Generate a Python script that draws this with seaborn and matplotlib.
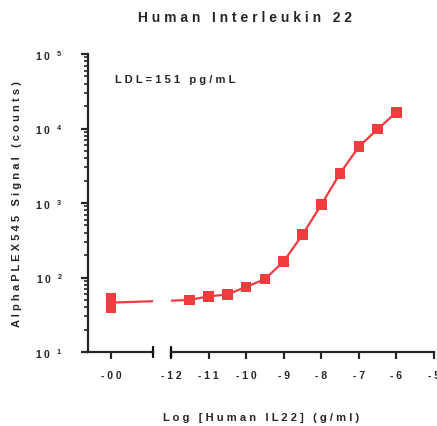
import matplotlib
matplotlib.use('Agg')
import matplotlib.pyplot as plt
import numpy as np
import pandas as pd
import seaborn as sns
from matplotlib.ticker import FixedLocator, FixedFormatter, LogLocator, NullFormatter

# data
log_conc = [-11.5, -11.0, -10.5, -10.0, -9.5, -9.0, -8.5, -8.0, -7.5, -7.0, -6.5, -6.0]
signal = [50, 56, 59, 75, 95, 165, 375, 950, 2500, 5700, 9800, 16500]
blank_signal = [53, 39]          # the "-00" (no IL22) replicates
x_ticks = [-12, -11, -10, -9, -8, -7, -6, -5]
y_ticks = [1e1, 1e2, 1e3, 1e4, 1e5]
y_exps = ['1', '2', '3', '4', '5']

BLANK_X = -13.6   # where the -00 group sits on the left piece of the broken axis
RED = '#F23B3F'


def spaced(s):
    return ' '.join(s)


def main():
    sns.set_style('ticks')
    plt.rcParams['font.family'] = ['Liberation Sans', 'DejaVu Sans']
    plt.rcParams['font.weight'] = 'bold'
    plt.rcParams['mathtext.fontset'] = 'custom'
    plt.rcParams['mathtext.rm'] = 'Liberation Sans:bold'
    plt.rcParams['mathtext.it'] = 'Liberation Sans:bold'
    plt.rcParams['mathtext.bf'] = 'Liberation Sans:bold'

    df = pd.DataFrame({
        'x': [BLANK_X] * len(blank_signal) + log_conc,
        'y': blank_signal + signal,
    })

    fig = plt.figure(figsize=(4.37, 4.27), dpi=100)
    W, H = 437.0, 427.0
    ax_l = fig.add_axes([88 / W, 74 / H, 65 / W, 298 / H])
    ax_r = fig.add_axes([171 / W, 74 / H, 263 / W, 298 / H], sharey=ax_l)

    for ax in (ax_l, ax_r):
        sns.lineplot(data=df, x='x', y='y', estimator='mean', errorbar=None,
                     color=RED, lw=1.6, ax=ax)
        sns.scatterplot(data=df, x='x', y='y', marker='s', s=58, color=RED,
                        edgecolor='none', ax=ax, zorder=3)
        ax.set_yscale('log')
        ax.set_xlabel('')
        ax.set_ylabel('')
        ax.spines['top'].set_visible(False)
        ax.spines['right'].set_visible(False)
        for sp in ax.spines.values():
            sp.set_linewidth(1.6)
        ax.tick_params(axis='x', length=5, width=1.6, labelsize=7.5, pad=8)
        # break marks
        ax.plot([1 if ax is ax_l else 0] * 2, [-0.018, 0.018], color='black',
                lw=1.6, transform=ax.transAxes, clip_on=False)

    ax_l.set_ylim(10, 1e5)
    ax_l.set_xlim(-14.207, -12.479)
    ax_r.set_xlim(-12, -5)

    ax_l.xaxis.set_major_locator(FixedLocator([BLANK_X]))
    ax_l.xaxis.set_major_formatter(FixedFormatter([spaced('-00')]))
    ax_r.xaxis.set_major_locator(FixedLocator(x_ticks))
    ax_r.xaxis.set_major_formatter(FixedFormatter([spaced(str(t)) for t in x_ticks]))

    ax_l.yaxis.set_major_locator(FixedLocator(y_ticks))
    ax_l.yaxis.set_major_formatter(
        FixedFormatter(['1 0 $^{\\ \\ %s}$' % e for e in y_exps]))
    ax_l.yaxis.set_minor_locator(LogLocator(base=10, subs=np.arange(2, 10), numticks=20))
    ax_l.yaxis.set_minor_formatter(NullFormatter())
    ax_l.tick_params(axis='y', which='major', length=5, width=1.6, labelsize=7.5, pad=13)
    ax_l.tick_params(axis='y', which='minor', length=3, width=1.2)

    ax_r.spines['left'].set_visible(False)
    ax_r.tick_params(axis='y', which='both', left=False, labelleft=False)

    fig.text(245 / W, 1 - 18 / H, spaced('Human') + '   ' + spaced('Interleukin') + '   ' + spaced('22'),
             ha='center', va='center', fontsize=10, fontweight='bold')
    fig.text(115 / W, 1 - 80 / H, spaced('LDL=151') + '   ' + spaced('pg/mL'),
             ha='left', va='center', fontsize=8, fontweight='bold')
    fig.text(261 / W, 1 - 418 / H,
             spaced('Log') + '   ' + spaced('[Human') + '   ' + spaced('IL22]') + '   ' + spaced('(g/ml)'),
             ha='center', va='center', fontsize=8, fontweight='bold')
    fig.text(17 / W, 1 - 204 / H,
             spaced('AlphaPLEX545') + '   ' + spaced('Signal') + '   ' + spaced('(counts)'),
             ha='center', va='center', rotation=90, fontsize=8, fontweight='bold')

    fig.savefig('out.png', dpi=100)


main()
